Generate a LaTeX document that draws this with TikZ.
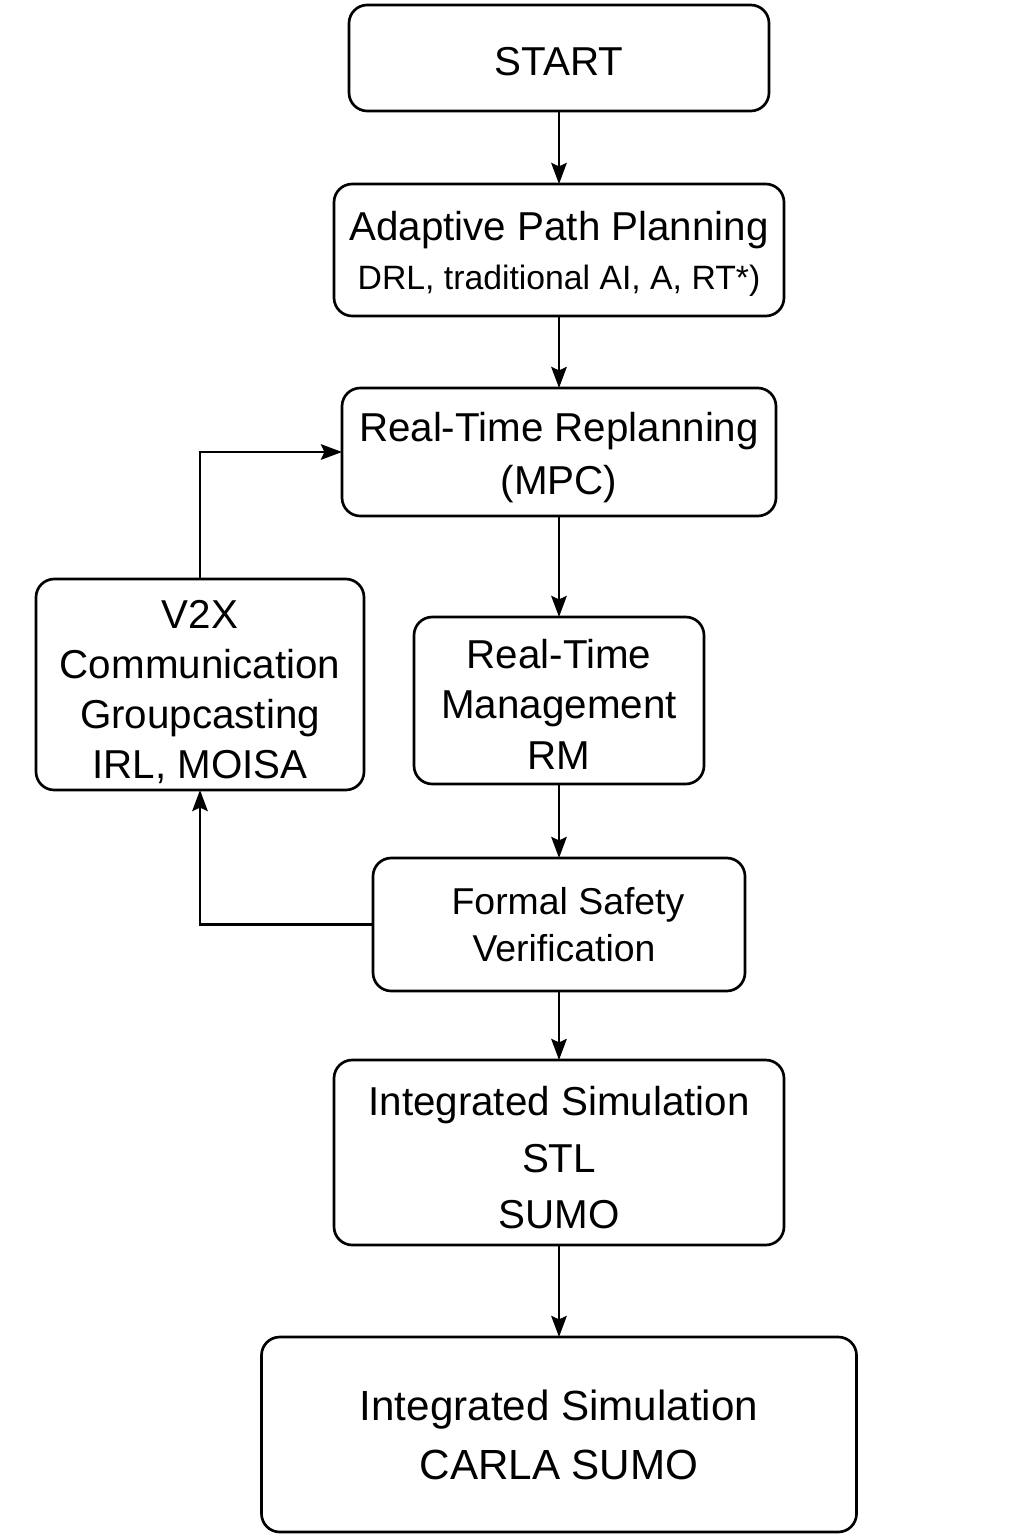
\documentclass[tikz,border=0pt]{standalone}
\usepackage{fontspec}
\setmainfont{Liberation Sans}
\usepackage{tikz}
\usetikzlibrary{arrows.meta, positioning}

% raises the top of a first line, pushes the text down
\newcommand{\toppad}[1]{\rule{0pt}{#1}}

\begin{document}
\begin{tikzpicture}[node distance=1.8cm, >={Stealth[length=15pt, width=11pt, inset=2.5pt]},
  box/.style={draw, line width=1.9pt, rounded corners=13pt, align=center, inner sep=0pt,
              outer sep=0pt, font=\fontsize{28.7}{35.6}\selectfont},
  flow/.style={->, line width=1.8pt}]
  \useasboundingbox (0,0) rectangle (25.6,-38.4);
  \node[box, minimum width=10.5cm, minimum height=2.65cm] (start) at (13.975,-1.45)
    {\toppad{24.8pt}START};
  \node[box, minimum width=11.25cm, minimum height=3.3cm, below=1.825cm of start] (plan)
    {\toppad{26.3pt}Adaptive Path Planning\\[-0.05cm] {\fontsize{24}{35.6}\selectfont DRL, traditional AI, A, RT*)}};
  \node[box, minimum width=10.85cm, minimum height=3.2cm, below=1.8cm of plan] (replan)
    {\toppad{28.4pt}Real-Time Replanning\\[0.075cm] (MPC)};
  \node[box, minimum width=7.25cm, minimum height=4.175cm, below=2.525cm of replan] (manage)
    {\toppad{26.3pt}Real-Time\\ Management\\ RM};
  \node[box, minimum width=8.2cm, minimum height=5.275cm, left=1.25cm of manage, yshift=0.4cm] (v2x)
    {\toppad{31.2pt}V2X\\ Communication\\ Groupcasting\\ IRL, MOISA};
  \node[box, minimum width=9.3cm, minimum height=3.325cm, below=1.85cm of manage,
        font=\fontsize{26.6}{33.5}\selectfont] (verify)
    {\hspace*{0.45cm}Formal Safety\\ \hspace*{0.25cm}Verification};
  \node[box, minimum width=11.25cm, minimum height=4.625cm, below=1.725cm of verify,
        font=\fontsize{28.7}{40.2}\selectfont] (sim)
    {\toppad{28.4pt}Integrated Simulation\\ STL\\ SUMO};
  \node[box, minimum width=14.875cm, minimum height=4.875cm, below=2.3cm of sim,
        font=\fontsize{30}{42}\selectfont] (carla)
    {Integrated Simulation\\ CARLA SUMO};

  \draw[flow] (start) -- (plan);
  \draw[flow] (plan) -- (replan);
  \draw[flow] (replan) -- (manage);
  \draw[flow] (manage) -- (verify);
  \draw[flow] (verify) -- (sim);
  \draw[flow] (sim) -- (carla);
  % feedback loop through V2X
  \draw[flow] (verify.west) -| (v2x.south);
  \draw[flow] (v2x.north) |- (replan.west);
\end{tikzpicture}
\end{document}
